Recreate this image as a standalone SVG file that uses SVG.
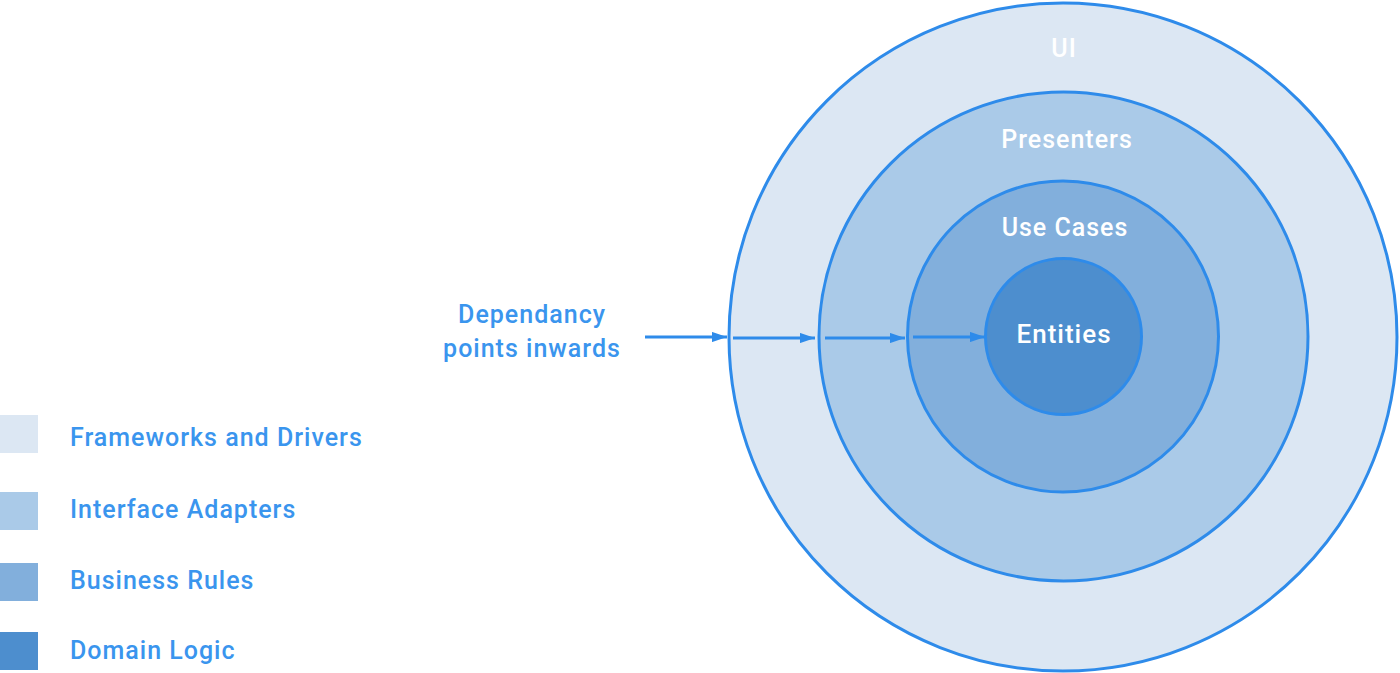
<svg xmlns="http://www.w3.org/2000/svg" width="1400" height="673" viewBox="0 0 1400 673">
<style>
.ring{stroke:#2E8BEA;stroke-width:3}
.lbl{font-family:Roboto,"Liberation Sans",sans-serif;font-weight:500;font-size:25px;letter-spacing:1px;fill:#3A95EE}
.in{font-family:Roboto,"Liberation Sans",sans-serif;font-weight:500;font-size:25px;letter-spacing:1px;fill:#ffffff;text-anchor:middle}
.arr{stroke:#2E8BEA;stroke-width:3;fill:none;marker-end:url(#ah)}
</style>
<defs>
<marker id="ah" viewBox="0 0 10 10" refX="10" refY="5" markerWidth="5" markerHeight="3.4" markerUnits="strokeWidth" orient="auto" preserveAspectRatio="none">
<path d="M0,0 L10,5 L0,10 Z" fill="#2E8BEA"/>
</marker>
</defs>
<rect width="1400" height="673" fill="#ffffff"/>
<g id="legend">
<rect x="0" y="415" width="38" height="38" fill="#DCE7F3"/>
<text class="lbl" x="70" y="446">Frameworks and Drivers</text>
<rect x="0" y="492" width="38" height="38" fill="#AACAE8"/>
<text class="lbl" x="70" y="518">Interface Adapters</text>
<rect x="0" y="563" width="38" height="38" fill="#82AFDC"/>
<text class="lbl" x="70" y="589">Business Rules</text>
<rect x="0" y="632" width="38" height="38" fill="#4D8ECE"/>
<text class="lbl" x="70" y="659">Domain Logic</text>
</g>
<g id="ui">
<circle class="ring" cx="1063" cy="337" r="334" fill="#DCE7F3"/>
<text class="in" x="1064" y="57">UI</text>
</g>
<g id="presenters">
<circle class="ring" cx="1063.5" cy="336.5" r="244.5" fill="#AACAE8"/>
<text class="in" x="1067" y="148">Presenters</text>
</g>
<g id="usecases">
<circle class="ring" cx="1063" cy="336.5" r="155.5" fill="#82AFDC"/>
<text class="in" x="1065" y="236">Use Cases</text>
</g>
<g id="entities">
<circle class="ring" cx="1063.5" cy="336.5" r="78" fill="#4D8ECE"/>
<text class="in" x="1064" y="343" style="font-size:26px">Entities</text>
</g>
<g id="dependancy">
<text class="lbl" text-anchor="middle" x="532" y="323">Dependancy</text>
<text class="lbl" text-anchor="middle" x="532" y="357">points inwards</text>
</g>
<g id="connectors">
<line class="arr" x1="645" y1="337" x2="727" y2="337"/>
<line class="arr" x1="733" y1="338" x2="815" y2="338"/>
<line class="arr" x1="825" y1="338" x2="905" y2="338"/>
<line class="arr" x1="913" y1="337" x2="985" y2="337"/>
</g>
</svg>
